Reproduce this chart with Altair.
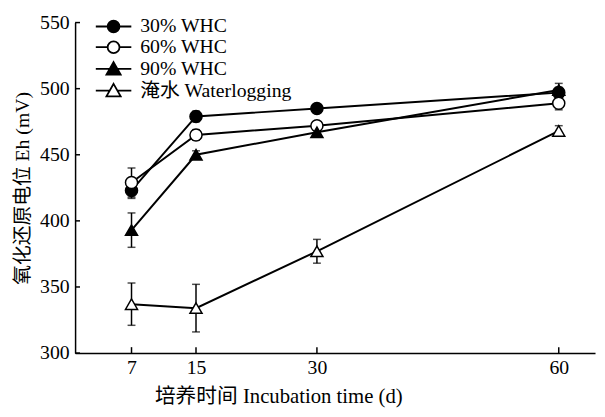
import altair as alt
import pandas as pd

days = [7, 15, 30, 60]
series = ["30% WHC", "60% WHC", "90% WHC", "淹水 Waterlogging"]
whc30 = [423, 479, 485, 497]
whc60 = [429, 465, 472, 489]
whc90 = [393, 450, 467, 499]
water = [337, 334, 377, 468]
whc30_err = [6, 4, 3, 4]
whc60_err = [11, 4, 3, 5]
whc90_err = [13, 3, 3, 5]
water_err = [16, 18, 9, 4]

x_ticks = [7, 15, 30, 60]
y_ticks = [300, 350, 400, 450, 500, 550]

rows = []
for name, vals, errs in zip(series, [whc30, whc60, whc90, water],
                            [whc30_err, whc60_err, whc90_err, water_err]):
    for d, v, e in zip(days, vals, errs):
        rows.append({"series": name, "day": d, "value": v, "err": e})
df = pd.DataFrame(rows)

FONT = "Liberation Serif, Noto Sans CJK SC"
FS = 20
W, H = 527, 335
XT = "培养时间 Incubation time (d)"
YT = "氧化还原电位 Eh (mV)"

xs = alt.Scale(domain=[0, 64.5], nice=False, zero=False)
ys = alt.Scale(domain=[300, 550], nice=False, zero=False)

fills = ["black", "white", "black", "white"]
strokes = ["black", "black", "black", "black"]
plot_shapes = ["circle", "circle", "triangle-up", "triangle-up"]
legend_shapes = [
    "M-3,0H-1 M1,0H3 M-1,0A1,1 0 1,1 1,0A1,1 0 1,1 -1,0Z",
    "M-3,0H-1 M1,0H3 M-1,0A1,1 0 1,1 1,0A1,1 0 1,1 -1,0Z",
    "M-3,0H-0.65 M0.65,0H3 M0,-1.15L1.2,0.95L-1.2,0.95Z",
    "M-3,0H-0.65 M0.65,0H3 M0,-1.15L1.2,0.95L-1.2,0.95Z",
]

base = alt.Chart(df)

lines = base.mark_line(color="black", strokeWidth=2).encode(
    x=alt.X("day:Q", scale=xs, title=XT,
            axis=alt.Axis(values=x_ticks, ticks=False, grid=False,
                          domainColor="black", domainWidth=1.5,
                          labelFont=FONT, labelFontSize=FS, labelColor="black",
                          labelPadding=5,
                          titleFont=FONT, titleFontSize=21, titleFontWeight="normal",
                          titleColor="black", titlePadding=8, titleX=206,
                          titleAnchor="start", titleAlign="center")),
    y=alt.Y("value:Q", scale=ys, title=YT,
            axis=alt.Axis(values=y_ticks, ticks=False, grid=False,
                          domainColor="black", domainWidth=1.5,
                          labelFont=FONT, labelFontSize=FS, labelColor="black",
                          labelPadding=6,
                          titleFont=FONT, titleFontSize=FS, titleFontWeight="normal",
                          titleColor="black", titlePadding=7)),
    detail="series:N",
)

errbars = base.mark_errorbar(ticks={"size": 8, "thickness": 1.5, "color": "black"},
                             thickness=1.5, color="black").encode(
    x=alt.X("day:Q", scale=xs, title=XT),
    y=alt.Y("value:Q", scale=ys, title=YT),
    yError="err:Q",
    detail="series:N",
)

points = base.mark_point(filled=True, size=150, stroke="black", strokeWidth=1.5,
                         opacity=1).encode(
    x=alt.X("day:Q", scale=xs, title=XT),
    y=alt.Y("value:Q", scale=ys, title=YT),
    shape=alt.Shape("series:N", scale=alt.Scale(domain=series, range=plot_shapes),
                    legend=None),
    fill=alt.Fill("series:N", scale=alt.Scale(domain=series, range=fills),
                  legend=None),
)

leg = alt.Legend(title=None, orient="none", legendX=29, legendY=-6,
                 padding=0, labelFont=FONT, labelFontSize=FS, labelColor="black",
                 labelOffset=17, rowPadding=1, symbolSize=144,
                 symbolStrokeColor="black", symbolStrokeWidth=1.8,
                 symbolOpacity=1, labelLimit=400)

legend_layer = base.mark_point(filled=True, size=144, strokeWidth=1.8,
                               opacity=0).encode(
    x=alt.X("day:Q", scale=xs, title=XT),
    y=alt.Y("value:Q", scale=ys, title=YT),
    shape=alt.Shape("series:N", scale=alt.Scale(domain=series, range=legend_shapes),
                    legend=leg),
    fill=alt.Fill("series:N", scale=alt.Scale(domain=series, range=fills),
                  legend=leg),
    stroke=alt.Stroke("series:N", scale=alt.Scale(domain=series, range=strokes),
                      legend=leg),
)

ytick_df = pd.DataFrame({"v": y_ticks})
xtick_df = pd.DataFrame({"d": x_ticks})
yticks = alt.Chart(ytick_df).mark_rule(color="black", strokeWidth=1.5).encode(
    y=alt.Y("v:Q", scale=ys, title=YT), x=alt.value(0), x2=alt.value(5))
xticks = alt.Chart(xtick_df).mark_rule(color="black", strokeWidth=1.5).encode(
    x=alt.X("d:Q", scale=xs, title=XT), y=alt.value(H), y2=alt.value(H - 6))

chart = alt.layer(lines, errbars, points, legend_layer, yticks, xticks).resolve_scale(
    shape="independent", fill="independent", stroke="independent"
).properties(
    width=W, height=H,
    autosize=alt.AutoSizeParams(type="none"),
    padding={"left": 68, "top": 12, "right": 2, "bottom": 60},
    background="white",
).configure_view(stroke=None)

chart.save("out.html", embed_options={"renderer": "svg", "actions": False})
